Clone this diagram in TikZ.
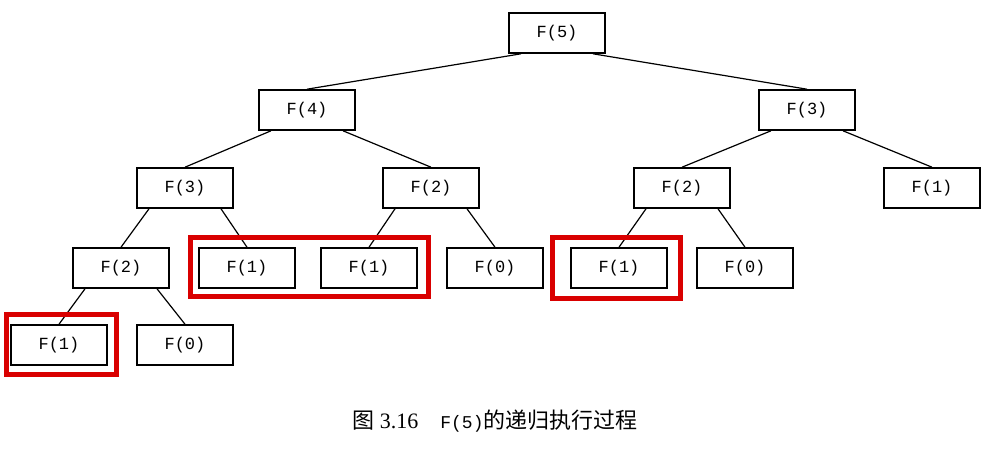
\documentclass[tikz,border=0pt]{standalone}
\usepackage{fontspec}
\setmonofont{Liberation Mono}
\setmainfont{Liberation Serif}
\newfontfamily\cjk{Noto Sans CJK SC}
\begin{document}
\begin{tikzpicture}[x=1pt,y=-1pt,
  fb/.style={draw,line width=1.6pt,fill=white,minimum width=96pt,minimum height=40pt,inner sep=0pt,font=\ttfamily\fontsize{17}{17}\selectfont},
  hl/.style={draw=red!85!black,line width=5pt},
  ed/.style={line width=1.2pt}]
\useasboundingbox (0,0) rectangle (991,461);
\node[fb] (a) at (557,33) {F(5)};
\node[fb] (b) at (307,110) {F(4)};
\node[fb] (c) at (807,110) {F(3)};
\node[fb] (d) at (185,188) {F(3)};
\node[fb] (e) at (431,188) {F(2)};
\node[fb] (f) at (682,188) {F(2)};
\node[fb] (g) at (932,188) {F(1)};
\node[fb] (h) at (121,268) {F(2)};
\node[fb] (i) at (247,268) {F(1)};
\node[fb] (j) at (369,268) {F(1)};
\node[fb] (k) at (495,268) {F(0)};
\node[fb] (l) at (619,268) {F(1)};
\node[fb] (m) at (745,268) {F(0)};
\node[fb] (n) at (59,345) {F(1)};
\node[fb] (o) at (185,345) {F(0)};
\foreach \p/\q in {a/b,b/d,c/f,d/h,e/j,f/l,h/n}
  \draw[ed] ([xshift=-36pt]\p.south) -- (\q.north);
\foreach \p/\q in {a/c,b/e,c/g,d/i,e/k,f/m,h/o}
  \draw[ed] ([xshift=36pt]\p.south) -- (\q.north);
\draw[hl] (6,314) rectangle (116,374);
\draw[hl] (190,237) rectangle (428,296);
\draw[hl] (552,237) rectangle (680,298);
\node[font=\fontsize{22}{22}\selectfont] (cap) at (495,421) {{\cjk 图} 3.16\quad{\ttfamily\fontsize{18}{18}\selectfont F(5)}{\cjk 的递归执行过程}};
\end{tikzpicture}
\end{document}
